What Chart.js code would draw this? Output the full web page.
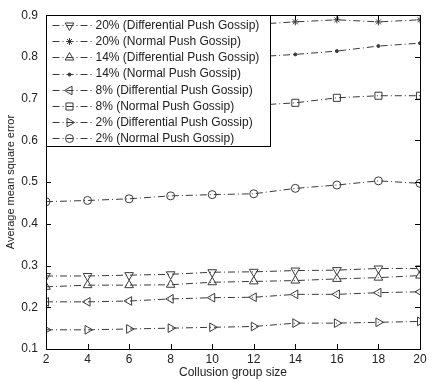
<!DOCTYPE html>
<html>
<head>
<meta charset="utf-8">
<script src="https://cdn.jsdelivr.net/npm/chart.js@4.4.1/dist/chart.umd.min.js"></script>
<style>
    body { margin: 0; background: #fff; }
    canvas { display: block; }
</style>
</head>
<body>
<canvas id="chart" width="436" height="382"></canvas>
<script>
// --- DATA ---
const groupSizes = [2, 4, 6, 8, 10, 12, 14, 16, 18, 20];
const yTicks = [0.1, 0.2, 0.3, 0.4, 0.5, 0.6, 0.7, 0.8, 0.9];

const diff20 = [0.275, 0.275, 0.277, 0.279, 0.284, 0.285, 0.288, 0.289, 0.293, 0.293];
const norm20 = [0.842, 0.850, 0.858, 0.864, 0.870, 0.878, 0.884, 0.889, 0.884, 0.889];
const diff14 = [0.249, 0.253, 0.253, 0.254, 0.260, 0.262, 0.264, 0.268, 0.271, 0.276];
const norm14 = [0.757, 0.768, 0.777, 0.784, 0.791, 0.800, 0.806, 0.814, 0.826, 0.833];
const diff8 = [0.213, 0.213, 0.215, 0.220, 0.223, 0.224, 0.231, 0.231, 0.235, 0.237];
const norm8 = [0.642, 0.652, 0.660, 0.668, 0.676, 0.684, 0.690, 0.702, 0.707, 0.707];
const diff2 = [0.146, 0.146, 0.148, 0.150, 0.152, 0.154, 0.162, 0.162, 0.164, 0.166];
const norm2 = [0.453, 0.456, 0.460, 0.467, 0.470, 0.472, 0.485, 0.493, 0.503, 0.497];

const seriesLabels = [
    '20% (Differential Push Gossip)', '20% (Normal Push Gossip)',
    '14% (Differential Push Gossip)', '14% (Normal Push Gossip)',
    '8% (Differential Push Gossip)', '8% (Normal Push Gossip)',
    '2% (Differential Push Gossip)', '2% (Normal Push Gossip)'
];
const seriesValues = [diff20, norm20, diff14, norm14, diff8, norm8, diff2, norm2];

// marker per series (matlab style markers)
const markers = [
    { style: 'triangle', rotation: 180, radius: 5 },
    { style: 'star', rotation: 0, radius: 3.5 },
    { style: 'triangle', rotation: 0, radius: 5 },
    { style: 'circle', rotation: 0, radius: 1.5, filled: true },
    { style: 'triangle', rotation: -90, radius: 5 },
    { style: 'rect', rotation: 0, radius: 5 },
    { style: 'triangle', rotation: 90, radius: 5 },
    { style: 'circle', rotation: 0, radius: 4 }
];

const LINE_COLOR = '#3a3a3a';
const TEXT_COLOR = '#222';
const DASH = [7, 3, 1, 3];
const FONT = 'Liberation Sans, Arial, sans-serif';

const datasets = seriesValues.map((vals, i) => ({
    label: seriesLabels[i],
    data: groupSizes.map((g, j) => ({ x: g, y: vals[j] })),
    borderColor: LINE_COLOR,
    borderWidth: 1,
    borderDash: DASH,
    pointStyle: markers[i].style,
    pointRotation: markers[i].rotation,
    pointRadius: markers[i].radius,
    pointBorderColor: LINE_COLOR,
    pointBackgroundColor: markers[i].filled ? LINE_COLOR : 'rgba(0,0,0,0)',
    pointBorderWidth: 1,
    tension: 0
}));

// --- PLUGIN: box, inward ticks, legend inside the axes ---
const matlabFrame = {
    id: 'matlabFrame',
    afterDraw(chart) {
        const { ctx, chartArea: a, scales } = chart;
        ctx.save();
        ctx.strokeStyle = '#000';
        ctx.lineWidth = 1;
        ctx.setLineDash([]);
        ctx.strokeRect(Math.round(a.left) + 0.5, Math.round(a.top) + 0.5,
            Math.round(a.right - a.left), Math.round(a.bottom - a.top));

        const tl = 5;
        ctx.beginPath();
        groupSizes.forEach(g => {
            const x = Math.round(scales.x.getPixelForValue(g)) + 0.5;
            ctx.moveTo(x, a.bottom); ctx.lineTo(x, a.bottom - tl);
            ctx.moveTo(x, a.top); ctx.lineTo(x, a.top + tl);
        });
        yTicks.forEach(v => {
            const y = Math.round(scales.y.getPixelForValue(v)) + 0.5;
            ctx.moveTo(a.left, y); ctx.lineTo(a.left + tl, y);
            ctx.moveTo(a.right, y); ctx.lineTo(a.right - tl, y);
        });
        ctx.stroke();

        // legend
        const lx = Math.round(a.left) + 0.5, ly = Math.round(a.top) + 0.5;
        const lw = 224, lh = 131;
        ctx.fillStyle = '#fff';
        ctx.fillRect(lx, ly, lw, lh);
        ctx.strokeRect(lx, ly, lw, lh);

        ctx.font = '12px ' + FONT;
        ctx.textBaseline = 'middle';
        seriesLabels.forEach((label, i) => {
            const y = ly + 9.5 + i * 16.2;
            ctx.strokeStyle = LINE_COLOR;
            ctx.setLineDash(DASH);
            ctx.beginPath();
            ctx.moveTo(lx + 6, Math.round(y) + 0.5);
            ctx.lineTo(lx + 47, Math.round(y) + 0.5);
            ctx.stroke();
            ctx.setLineDash([]);
            const m = markers[i];
            ctx.fillStyle = m.filled ? LINE_COLOR : 'rgba(0,0,0,0)';
            ctx.lineWidth = 1;
            if (Chart.helpers && Chart.helpers.drawPoint) {
                Chart.helpers.drawPoint(ctx, {
                    pointStyle: m.style, rotation: m.rotation,
                    radius: m.radius, borderWidth: 1
                }, lx + 23, Math.round(y) + 0.5);
            }
            ctx.fillStyle = TEXT_COLOR;
            ctx.fillText(label, lx + 49, y + 0.5);
        });
        ctx.restore();
    }
};

// --- CHART ---
new Chart(document.getElementById('chart'), {
    type: 'line',
    data: { datasets },
    plugins: [matlabFrame],
    options: {
        responsive: false,
        devicePixelRatio: 1,
        animation: false,
        layout: { padding: { top: 8, right: 16, left: 0, bottom: 0 } },
        plugins: { legend: { display: false }, tooltip: { enabled: false } },
        scales: {
            x: {
                type: 'linear', min: 2, max: 20,
                afterFit: s => { s.height = 33; },
                afterBuildTicks: s => { s.ticks = groupSizes.map(v => ({ value: v })); },
                grid: { display: false, drawTicks: false },
                border: { display: true, color: '#000' },
                ticks: { color: TEXT_COLOR, padding: 3, font: { family: FONT, size: 12 } },
                title: {
                    display: true, text: 'Collusion group size', color: TEXT_COLOR,
                    font: { family: FONT, size: 12 }, padding: { top: 0, bottom: 2 }
                }
            },
            y: {
                type: 'linear', min: 0.1, max: 0.9,
                afterFit: s => { s.width = 46; },
                afterBuildTicks: s => { s.ticks = yTicks.map(v => ({ value: v })); },
                grid: { display: false, drawTicks: false },
                border: { display: true, color: '#000' },
                ticks: {
                    color: TEXT_COLOR, padding: 8, font: { family: FONT, size: 12 },
                    callback: v => v.toFixed(1)
                },
                title: {
                    display: true, text: 'Average mean square error', color: TEXT_COLOR,
                    font: { family: FONT, size: 11 }, padding: { top: 4, bottom: 0 }
                }
            }
        }
    }
});
</script>
</body>
</html>
